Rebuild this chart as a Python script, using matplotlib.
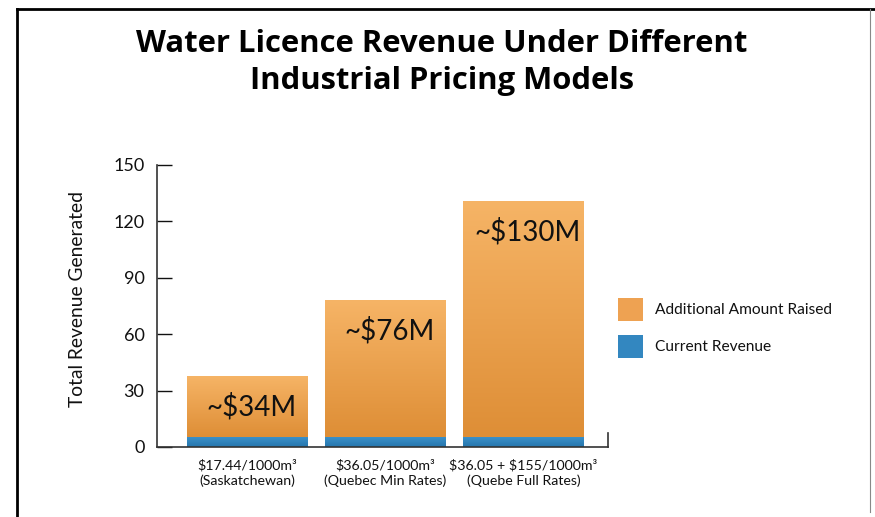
import numpy as np
import matplotlib
matplotlib.use("Agg")
import matplotlib.pyplot as plt
from matplotlib.colors import LinearSegmentedColormap
from matplotlib.lines import Line2D
from matplotlib.patches import Patch

# ================
# DATA
# ================
categories = ["\\$17.44/1000m³\n(Saskatchewan)",
              "\\$36.05/1000m³\n(Quebec Min Rates)",
              "\\$36.05 + \\$155/1000m³\n(Quebe Full Rates)"]
current_revenue = [5.5, 5.5, 5.5]
additional_amount = [32.3, 72.7, 125.5]
bar_labels = ["~\\$34M", "~\\$76M", "~\\$130M"]

# ================
# STYLE
# ================
plt.rcParams['font.family'] = ['Lato', 'DejaVu Sans']
orange_cmap = LinearSegmentedColormap.from_list("orange", ["#DE8E36", "#F6B466"])
blue_cmap = LinearSegmentedColormap.from_list("blue", ["#2676AD", "#3C92CB"])
grad = np.linspace(0, 1, 256).reshape(-1, 1)
txt_col = "#111111"

fig = plt.figure(figsize=(8.75, 5.17), dpi=100)
ax = fig.add_axes([0.1794, 0.1354, 0.5155, 0.5455])

x = np.arange(len(categories))
width = 0.87
bottom_bars = ax.bar(x, current_revenue, width, color="none")
top_bars = ax.bar(x, additional_amount, width, bottom=current_revenue, color="none")


def fill_gradient(bars, cmap):
    for b in bars:
        x0, y0 = b.get_x(), b.get_y()
        ax.imshow(grad, cmap=cmap, origin="lower", aspect="auto",
                  extent=[x0, x0 + b.get_width(), y0, y0 + b.get_height()], zorder=1)


fill_gradient(bottom_bars, blue_cmap)
fill_gradient(top_bars, orange_cmap)

# value labels inside the bars
for i, lab in enumerate(bar_labels):
    total = current_revenue[i] + additional_amount[i]
    ax.text(x[i] + 0.03, total - 16.5, lab, ha="center", va="center", fontsize=20, color=txt_col, zorder=3)

ax.set_xlim(-0.652, 2.612)
ax.set_ylim(0, 150)
ax.set_yticks([0, 30, 60, 90, 120, 150])
ax.set_xticks(x)
ax.set_xticklabels(categories, fontsize=10.2, linespacing=1.25)
ax.tick_params(axis="y", direction="in", length=11, width=1, labelsize=13, pad=9, colors=txt_col)
ax.tick_params(axis="x", length=0, pad=9, colors=txt_col)
ax.set_ylabel("Total Revenue Generated", fontsize=13.9, color=txt_col)
ax.yaxis.set_label_coords(-0.157, 0.525)

ax.spines["top"].set_visible(False)
ax.spines["right"].set_bounds(0, 7.5)
for s in ["left", "bottom", "right"]:
    ax.spines[s].set_color("#333333")
    ax.spines[s].set_linewidth(1.2)

handles = [Patch(facecolor="#EEA252", label="Additional Amount Raised"),
           Patch(facecolor="#3387C0", label="Current Revenue")]
fig.legend(handles=handles, loc="center left", bbox_to_anchor=(0.69, 0.3656),
           frameon=False, fontsize=11.2, handlelength=1.65, handleheight=1.9,
           handletextpad=0.75, labelspacing=0.9, labelcolor=txt_col)

fig.text(0.505, 0.879, "Water Licence Revenue Under Different\nIndustrial Pricing Models",
         ha="center", va="center", fontsize=22.3, fontweight="bold",
         family=["Open Sans", "DejaVu Sans"], linespacing=1.3, color="black")

# frame lines around the graphic
fig.add_artist(Line2D([0.0194, 1.0], [0.9826, 0.9826], color="black", lw=2))
fig.add_artist(Line2D([0.0194, 0.0194], [0.0, 0.9826], color="black", lw=2))
fig.add_artist(Line2D([0.9943, 0.9943], [0.01, 0.9826], color="#888888", lw=0.8))

fig.savefig("out.png", dpi=100)
